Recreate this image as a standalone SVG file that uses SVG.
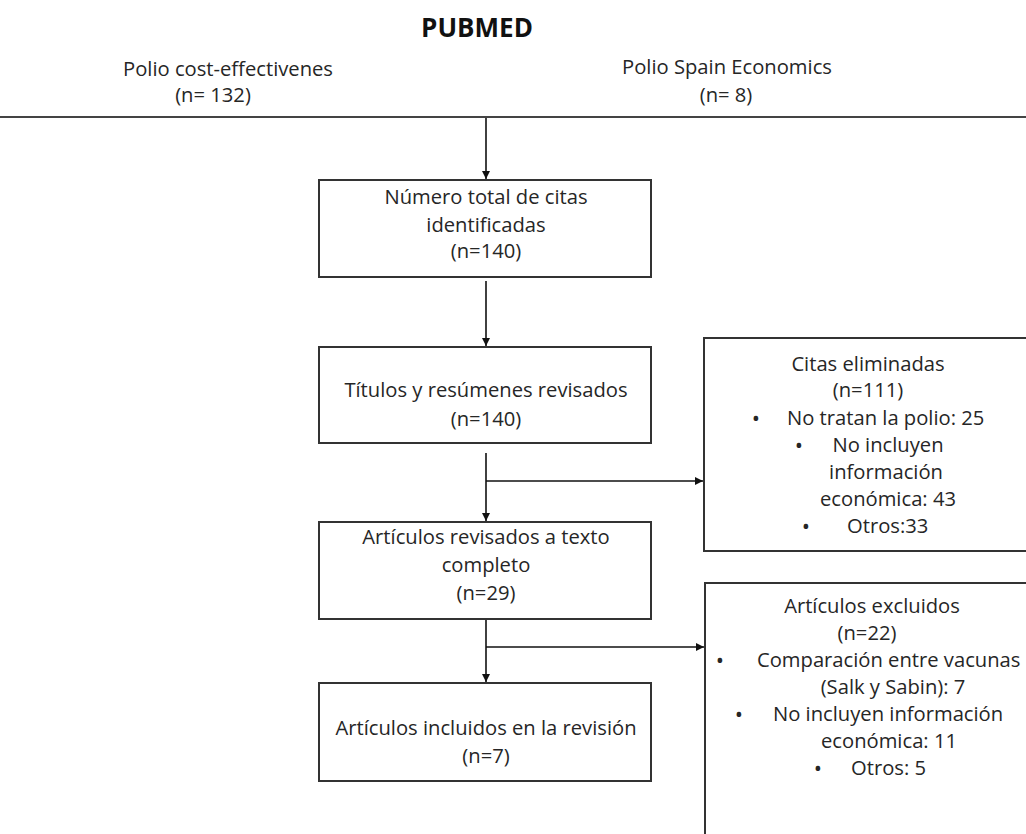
<svg xmlns="http://www.w3.org/2000/svg" width="1026" height="834" viewBox="0 0 1026 834">
<defs>
<style>
text{font-family:"Open Sans","Liberation Sans",sans-serif;font-size:20.2px;fill:#262626}
.c{text-anchor:middle}
.b{text-anchor:middle;font-size:22px}
.t{font-weight:bold;font-size:26px;fill:#111}
.box{fill:#fff;stroke:#333;stroke-width:2}
.ln{stroke:#111;stroke-width:1.6;fill:none}
</style>
<marker id="ah" viewBox="0 0 10 10" refX="10" refY="5" markerWidth="8" markerHeight="8" markerUnits="userSpaceOnUse" orient="auto">
<path d="M0,0 L10,5 L0,10 z" fill="#111"/>
</marker>
</defs>
<rect width="1026" height="834" fill="#fff"/>
<g id="header">
<text class="c t" x="477" y="37">PUBMED</text>
<text class="c" x="228" y="76">Polio cost-effectivenes</text>
<text class="c" x="213" y="102">(n= 132)</text>
<text class="c" x="727" y="74">Polio Spain Economics</text>
<text class="c" x="726" y="102">(n= 8)</text>
<line x1="0" y1="117" x2="1026" y2="117" stroke="#444" stroke-width="2"/>
</g>
<g id="connectors">
<line class="ln" x1="486" y1="118" x2="486" y2="179" marker-end="url(#ah)"/>
<line class="ln" x1="486" y1="281" x2="486" y2="346" marker-end="url(#ah)"/>
<line class="ln" x1="486" y1="453" x2="486" y2="521" marker-end="url(#ah)"/>
<line class="ln" x1="486" y1="481" x2="703" y2="481" marker-end="url(#ah)"/>
<line class="ln" x1="486" y1="620" x2="486" y2="682" marker-end="url(#ah)"/>
<line class="ln" x1="486" y1="647" x2="704" y2="647" marker-end="url(#ah)"/>
</g>
<g id="n1">
<rect class="box" x="319" y="180" width="332" height="97"/>
<text class="c" x="486" y="204">Número total de citas</text>
<text class="c" x="486" y="232">identificadas</text>
<text class="c" x="486" y="258">(n=140)</text>
</g>
<g id="n2">
<rect class="box" x="319" y="347" width="332" height="96"/>
<text class="c" x="486" y="397">Títulos y resúmenes revisados</text>
<text class="c" x="486" y="426">(n=140)</text>
</g>
<g id="n3">
<rect class="box" x="319" y="522" width="332" height="97"/>
<text class="c" x="486" y="544">Artículos revisados a texto</text>
<text class="c" x="486" y="572">completo</text>
<text class="c" x="486" y="600">(n=29)</text>
</g>
<g id="n4">
<rect class="box" x="319" y="683" width="332" height="98"/>
<text class="c" x="486" y="735">Artículos incluidos en la revisión</text>
<text class="c" x="486" y="763">(n=7)</text>
</g>
<g id="r1">
<rect class="box" x="704" y="338" width="340" height="213"/>
<text class="c" x="868" y="371">Citas eliminadas</text>
<text class="c" x="868" y="397">(n=111)</text>
<text class="b" x="756" y="426">•</text>
<text x="787" y="425">No tratan la polio: 25</text>
<text class="b" x="799" y="453">•</text>
<text class="c" x="888" y="452">No incluyen</text>
<text class="c" x="886" y="479">información</text>
<text class="c" x="888" y="506">económica: 43</text>
<text class="b" x="806" y="534">•</text>
<text x="847" y="533">Otros:33</text>
</g>
<g id="r2">
<rect class="box" x="705" y="583" width="340" height="270"/>
<text class="c" x="872" y="613">Artículos excluidos</text>
<text class="c" x="867" y="640">(n=22)</text>
<text class="b" x="720" y="668">•</text>
<text x="757" y="667">Comparación entre vacunas</text>
<text class="c" x="893" y="694">(Salk y Sabin): 7</text>
<text class="b" x="739" y="722">•</text>
<text x="773" y="721">No incluyen información</text>
<text class="c" x="889" y="748">económica: 11</text>
<text class="b" x="818" y="776">•</text>
<text x="851" y="775">Otros: 5</text>
</g>
</svg>
